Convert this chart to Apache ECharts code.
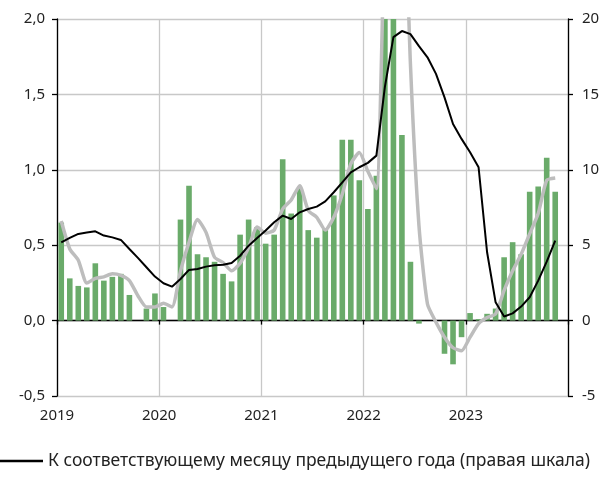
<!DOCTYPE html>
<html>
<head>
    <meta charset="UTF-8">
    <title>Цены</title>
    <script src="https://cdn.jsdelivr.net/npm/echarts@6/dist/echarts.min.js"></script>
    <style>
        html, body { margin: 0; padding: 0; background: #fff; }
        #chart { width: 608px; height: 483px; }
    </style>
</head>
<body>
<div id="chart"></div>
<script type="text/javascript">
    // подписи годов (начало каждого года на оси X)
    var years = ['2019', '2020', '2021', '2022', '2023'];

    // к предыдущему месяцу, % (левая шкала), янв 2019 - ноя 2023
    var mom = [
        0.65, 0.28, 0.23, 0.22, 0.38, 0.265, 0.29, 0.31, 0.17, 0, 0.08, 0.18,
        0.09, 0, 0.67, 0.895, 0.44, 0.42, 0.39, 0.31, 0.26, 0.57, 0.67, 0.62,
        0.51, 0.57, 1.07, 0.71, 0.88, 0.60, 0.55, 0.61, 0.83, 1.20, 1.20, 0.93,
        0.74, 0.96, 2.4, 2.2, 1.23, 0.39, -0.02, 0, 0, -0.22, -0.29, -0.11,
        0.05, 0.01, 0.045, 0.08, 0.42, 0.52, 0.44, 0.855, 0.89, 1.08, 0.855
    ];

    // сглаженная динамика (серая линия, левая шкала)
    var smoothed = [
        0.66, 0.475, 0.40, 0.25, 0.28, 0.29, 0.31, 0.30, 0.265, 0.165, 0.09, 0.09,
        0.115, 0.09, 0.33, 0.52, 0.67, 0.585, 0.42, 0.385, 0.33, 0.38, 0.485, 0.62,
        0.58, 0.60, 0.74, 0.80, 0.895, 0.73, 0.685, 0.60, 0.685, 0.84, 1.04, 1.115,
        0.99, 0.875, 2.6, 3.5, 3.3, 1.7, 0.63, 0.11, -0.01, -0.11, -0.18, -0.20,
        -0.11, -0.02, 0.02, 0.045, 0.20, 0.33, 0.44, 0.575, 0.71, 0.93, 0.946
    ];

    // к соответствующему месяцу предыдущего года, % (правая шкала)
    var yoy = [
        5.19, 5.48, 5.75, 5.84, 5.92, 5.64, 5.52, 5.35, 4.75, 4.16, 3.54, 2.92,
        2.48, 2.25, 2.76, 3.36, 3.42, 3.58, 3.67, 3.70, 3.82, 4.30, 4.97, 5.48,
        5.97, 6.52, 6.96, 6.74, 7.18, 7.40, 7.56, 7.91, 8.51, 9.17, 9.83, 10.17,
        10.46, 10.94, 15.5, 18.8, 19.2, 19.0, 18.2, 17.46, 16.36, 14.8, 13.04, 12.05,
        11.16, 10.17, 4.53, 1.21, 0.27, 0.48, 0.93, 1.55, 2.65, 3.91, 5.3
    ];

    var yoyName = 'К соответствующему месяцу предыдущего года (правая шкала)';

    function toPoints(arr) {
        var res = [];
        for (var i = 0; i < arr.length; i++) {
            res.push([i + 0.5, arr[i]]);
        }
        return res;
    }

    var font = '"Noto Sans", "DejaVu Sans", sans-serif';
    var gridColor = '#c8c8c8';

    var myChart = echarts.init(document.getElementById('chart'), null, { renderer: 'canvas' });
    var option = {
        animation: false,
        backgroundColor: '#fff',
        textStyle: { fontFamily: font },
        grid: { left: 57, right: 40, top: 19, bottom: 87, containLabel: false },
        legend: {
            data: [{ name: yoyName, icon: 'rect' }],
            left: 0,
            top: 452,
            padding: 0,
            itemWidth: 43,
            itemHeight: 2.4,
            textStyle: { fontFamily: font, fontSize: 17.5, color: '#222' }
        },
        xAxis: [{
            type: 'value',
            min: 0,
            max: 60,
            interval: 12,
            position: 'bottom',
            axisLine: { show: false, onZero: false },
            axisTick: { show: false },
            axisLabel: {
                fontSize: 15,
                color: '#222',
                margin: 12,
                formatter: function (v) {
                    var k = Math.round(v / 12);
                    return years[k] || '';
                }
            },
            splitLine: { show: true, lineStyle: { color: gridColor, width: 1.3 } }
        }, {
            type: 'value',
            min: 0,
            max: 60,
            interval: 12,
            axisLine: { show: true, onZero: true, lineStyle: { color: '#000', width: 1.3 } },
            axisTick: { show: true, inside: true, length: 4, lineStyle: { color: '#000', width: 1.3 } },
            axisLabel: { show: false },
            splitLine: { show: false }
        }],
        yAxis: [{
            type: 'value',
            min: -0.5,
            max: 2,
            interval: 0.5,
            position: 'left',
            axisLine: { show: true, onZero: false, lineStyle: { color: '#000', width: 1.3 } },
            axisTick: { show: true, length: 5, lineStyle: { color: '#000', width: 1.3 } },
            axisLabel: {
                fontSize: 15,
                color: '#222',
                margin: 12,
                formatter: function (v) { return v.toFixed(1).replace('.', ','); }
            },
            splitLine: { show: true, lineStyle: { color: gridColor, width: 1.3 } }
        }, {
            type: 'value',
            min: -5,
            max: 20,
            interval: 5,
            position: 'right',
            axisLine: { show: true, onZero: false, lineStyle: { color: '#000', width: 1.3 } },
            axisTick: { show: true, length: 5, lineStyle: { color: '#000', width: 1.3 } },
            axisLabel: { fontSize: 15, color: '#222', margin: 14 },
            splitLine: { show: false }
        }],
        series: [{
            name: 'К предыдущему месяцу',
            type: 'bar',
            xAxisIndex: 0,
            yAxisIndex: 0,
            barWidth: 5.6,
            clip: true,
            itemStyle: { color: '#6aab6a' },
            data: toPoints(mom)
        }, {
            name: 'Сглаженная динамика',
            type: 'line',
            xAxisIndex: 0,
            yAxisIndex: 0,
            symbol: 'none',
            clip: true,
            smooth: 0.2,
            lineStyle: { color: '#bdbdbd', width: 3.5 },
            data: toPoints(smoothed)
        }, {
            name: yoyName,
            type: 'line',
            xAxisIndex: 0,
            yAxisIndex: 1,
            symbol: 'none',
            clip: true,
            itemStyle: { color: '#000' },
            lineStyle: { color: '#000', width: 2 },
            data: toPoints(yoy)
        }]
    };
    myChart.setOption(option);
</script>
</body>
</html>
